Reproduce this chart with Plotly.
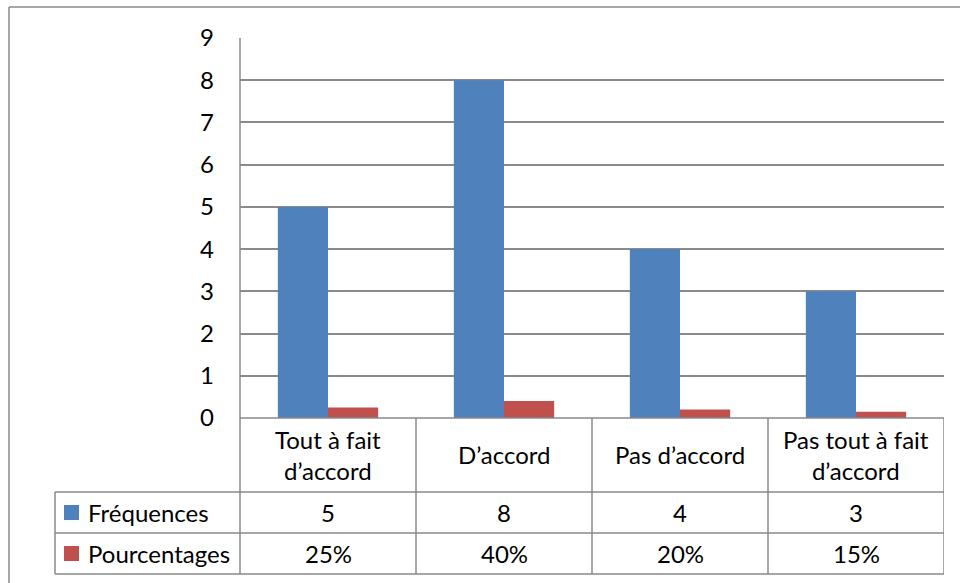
import plotly.graph_objects as go

# Survey answers and their counts / shares
categories = ["Tout à fait<br>d’accord", "D’accord", "Pas d’accord", "Pas tout à fait<br>d’accord"]
frequences = [5, 8, 4, 3]
pourcentages = [0.25, 0.40, 0.20, 0.15]
series_names = ["Fréquences", "Pourcentages"]
y_ticks = list(range(0, 10))

BLUE = "#4F81BD"
RED = "#C0504D"
GRID = "#8A8A8A"
FONT = "Lato"
FSIZE = 24
W, H = 960, 583

# pixel layout of the chart frame
PLOT_L, PLOT_R, PLOT_T, PLOT_B = 240, 944, 38, 418
ROW1_B, ROW2_B, ROW3_B = 492, 533, 574
LEG_L = 55


def px(x):
    return x / W


def py(y):
    return 1 - y / H


xpos = list(range(len(categories)))

fig = go.Figure()
fig.add_trace(go.Bar(x=xpos, y=frequences, name=series_names[0], marker_color=BLUE,
                     marker_line_width=0))
fig.add_trace(go.Bar(x=xpos, y=pourcentages, name=series_names[1], marker_color=RED,
                     marker_line_width=0))

shapes = []


def hline(x0, x1, y, xref="paper"):
    shapes.append(dict(type="line", xref=xref, yref="paper", x0=x0, x1=x1,
                       y0=py(y), y1=py(y), line=dict(color=GRID, width=1.5)))


def vline(x, y0, y1, xref="paper"):
    shapes.append(dict(type="line", xref=xref, yref="paper", x0=x, x1=x,
                       y0=py(y0), y1=py(y1), line=dict(color=GRID, width=1.5)))


# outer chart frame (top and left edges)
hline(px(9), 1.0, 7)
vline(px(9), 7, H)

# data table grid
hline(px(PLOT_L), px(PLOT_R), PLOT_B)
for yb in (ROW1_B, ROW2_B, ROW3_B):
    hline(px(LEG_L), px(PLOT_R), yb)
vline(px(PLOT_L), PLOT_T, ROW3_B)
vline(px(LEG_L), ROW1_B, ROW3_B)
for k in range(1, len(categories) + 1):
    vline(k - 0.5, PLOT_B, ROW3_B, xref="x")

# legend keys in the table rows
for color, (y0, y1) in zip([BLUE, RED], [(ROW1_B, ROW2_B), (ROW2_B, ROW3_B)]):
    cy = (y0 + y1) / 2
    shapes.append(dict(type="rect", xref="paper", yref="paper",
                       x0=px(64), x1=px(79), y0=py(cy - 7.5), y1=py(cy + 7.5),
                       fillcolor=color, line_width=0))

annotations = []
tfont = dict(family=FONT, size=FSIZE, color="#000000")

# category header cells
for i, cat in enumerate(categories):
    annotations.append(dict(x=i, xref="x", y=py((PLOT_B + ROW1_B) / 2), yref="paper",
                            text=cat, showarrow=False, font=tfont,
                            xanchor="center", yanchor="middle"))

# value rows
rows = [[str(v) for v in frequences], [f"{round(v * 100)}%" for v in pourcentages]]
for r, (vals, (y0, y1)) in enumerate(zip(rows, [(ROW1_B, ROW2_B), (ROW2_B, ROW3_B)])):
    cy = py((y0 + y1) / 2)
    annotations.append(dict(x=px(86), xref="paper", y=cy, yref="paper",
                            text=series_names[r], showarrow=False, font=tfont,
                            xanchor="left", yanchor="middle"))
    for i, v in enumerate(vals):
        annotations.append(dict(x=i, xref="x", y=cy, yref="paper", text=v,
                                showarrow=False, font=tfont,
                                xanchor="center", yanchor="middle"))

fig.update_layout(
    width=W, height=H,
    margin=dict(l=0, r=0, t=0, b=0, autoexpand=False),
    paper_bgcolor="white", plot_bgcolor="white",
    barmode="group", bargap=0.43, bargroupgap=0,
    showlegend=False,
    xaxis=dict(domain=[px(PLOT_L), px(PLOT_R)], range=[-0.5, len(categories) - 0.5],
               showticklabels=False, showgrid=False, zeroline=False, showline=False,
               automargin=False, fixedrange=True),
    yaxis=dict(domain=[py(PLOT_B), py(PLOT_T)], range=[0, 9], tickvals=y_ticks,
               showgrid=True, gridcolor=GRID, gridwidth=1.5, zeroline=False,
               showline=False, ticks="", ticklabelstandoff=25, automargin=False,
               tickfont=dict(family=FONT, size=FSIZE, color="#000000"), fixedrange=True),
    shapes=shapes,
    annotations=annotations,
)

fig.write_html("out.html")
